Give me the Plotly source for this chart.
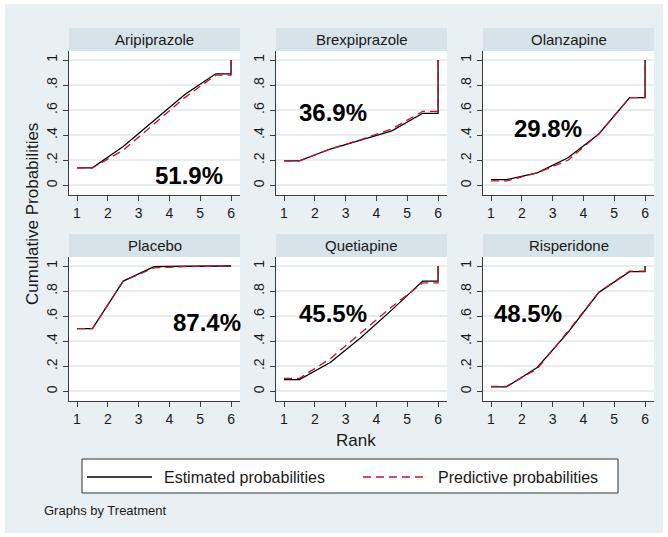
"""Cumulative ranking (SUCRA) curves by treatment, Stata-style panel grid."""

import plotly.graph_objects as go

# ── data ─────────────────────────────────────────────────────────────

treatments = ["Aripiprazole", "Brexpiprazole", "Olanzapine", "Placebo", "Quetiapine", "Risperidone"]
ranks = [1, 2, 3, 4, 5, 6]
sucra_labels = ["51.9%", "36.9%", "29.8%", "87.4%", "45.5%", "48.5%"]

# cumulative probability of being among the best k treatments, k = 1..6
est_aripiprazole = [0.14, 0.31, 0.52, 0.725, 0.89, 1.0]
est_brexpiprazole = [0.195, 0.29, 0.36, 0.435, 0.575, 1.0]
est_olanzapine = [0.045, 0.10, 0.22, 0.41, 0.70, 1.0]
est_placebo = [0.50, 0.88, 0.995, 0.998, 1.0, 1.0]
est_quetiapine = [0.093, 0.23, 0.43, 0.65, 0.88, 1.0]
est_risperidone = [0.035, 0.19, 0.47, 0.79, 0.955, 1.0]

pred_aripiprazole = [0.14, 0.28, 0.49, 0.70, 0.88, 1.0]
pred_brexpiprazole = [0.195, 0.29, 0.365, 0.45, 0.59, 1.0]
pred_olanzapine = [0.035, 0.10, 0.20, 0.41, 0.70, 1.0]
pred_placebo = [0.50, 0.88, 0.985, 0.995, 0.999, 1.0]
pred_quetiapine = [0.104, 0.26, 0.47, 0.675, 0.865, 1.0]
pred_risperidone = [0.04, 0.18, 0.48, 0.79, 0.96, 1.0]

estimated = [est_aripiprazole, est_brexpiprazole, est_olanzapine,
             est_placebo, est_quetiapine, est_risperidone]
predictive = [pred_aripiprazole, pred_brexpiprazole, pred_olanzapine,
              pred_placebo, pred_quetiapine, pred_risperidone]
series_names = ["Estimated probabilities", "Predictive probabilities"]

y_tickvals = [0, 0.2, 0.4, 0.6, 0.8, 1]
y_ticktext = ["0", ".2", ".4", ".6", ".8", "1"]

# ── layout constants (pixels) ────────────────────────────────────────

W, H = 668, 537
FONT = "Arial, Liberation Sans, sans-serif"
INK = "#1a1a1a"
BG = "#e9f0f3"
STRIP = "#d6e3e9"
GRID = "#e6eef1"
AXIS = "#3c3c3c"
RED = "#c8102e"
DASH = "8px,5px"

cols_px = [(69, 240), (276, 447), (483, 654)]
rows_px = [(51, 195), (257, 401)]
strip_h = 23
# where each SUCRA label sits, in data units of its panel
label_xy = [(4.65, 0.08), (2.6, 0.58), (2.85, 0.45), (5.22, 0.55), (2.6, 0.62), (2.2, 0.62)]


def px(x):
    return x / W


def py(y):
    return 1 - y / H


def step_path(cum):
    """Stata sucra layout: flat to 1.5, joined at half ranks, jump to 1 at the last rank."""
    xs = [ranks[0]] + [r + 0.5 for r in ranks[:-1]] + [ranks[-1], ranks[-1]]
    ys = [cum[0]] + list(cum[:-1]) + [cum[-2], cum[-1]]
    return xs, ys


def text(s, x, y, size, **kw):
    fig.add_annotation(text=s, xref="paper", yref="paper", x=px(x), y=py(y),
                       xanchor=kw.pop("xanchor", "center"), yanchor="middle",
                       showarrow=False, font=dict(family=FONT, size=size, color=INK), **kw)


fig = go.Figure()

# outer light panel
fig.add_shape(type="rect", xref="paper", yref="paper",
              x0=px(5), x1=px(663), y0=py(533), y1=py(4),
              fillcolor=BG, line_width=0, layer="below")

for i, name in enumerate(treatments):
    r, c = divmod(i, 3)
    x0, x1 = cols_px[c]
    top, bot = rows_px[r]
    n = "" if i == 0 else str(i + 1)
    xa, ya = "x" + n, "y" + n

    fig.add_shape(type="rect", xref="paper", yref="paper",
                  x0=px(x0), x1=px(x1), y0=py(bot), y1=py(top),
                  fillcolor="white", line_width=0, layer="below")
    fig.add_shape(type="rect", xref="paper", yref="paper",
                  x0=px(x0), x1=px(x1), y0=py(top), y1=py(top - strip_h),
                  fillcolor=STRIP, line_width=0)
    text(name, (x0 + x1) / 2, top - strip_h / 2, 15)

    ex, ey = step_path(estimated[i])
    qx, qy = step_path(predictive[i])
    fig.add_trace(go.Scatter(x=ex, y=ey, xaxis=xa, yaxis=ya, mode="lines",
                             line=dict(color="black", width=1.3), name=series_names[0]))
    fig.add_trace(go.Scatter(x=qx, y=qy, xaxis=xa, yaxis=ya, mode="lines",
                             line=dict(color=RED, width=1.3, dash=DASH), name=series_names[1]))

    lx, ly = label_xy[i]
    fig.add_annotation(text="<b>" + sucra_labels[i] + "</b>", xref=xa, yref=ya,
                       x=lx, y=ly, showarrow=False,
                       font=dict(family=FONT, size=24, color="black"))

    common = dict(showline=True, linecolor=AXIS, linewidth=1, ticks="outside",
                  ticklen=5, tickcolor=AXIS, tickfont=dict(family=FONT, size=14, color=INK),
                  zeroline=False)
    fig.update_layout({
        "xaxis" + n: dict(domain=[px(x0), px(x1)], range=[0.74, 6.29], anchor=ya,
                          tickvals=ranks, showgrid=False, **common),
        "yaxis" + n: dict(domain=[py(bot), py(top)], range=[-0.077, 1.072], anchor=xa,
                          tickvals=y_tickvals, ticktext=y_ticktext, tickangle=-90,
                          showgrid=True, gridcolor=GRID, gridwidth=1.5, **common),
    })

text("Cumulative Probabilities", 32, 214, 17, textangle=-90)
text("Rank", 356, 440, 17)
text("Graphs by Treatment", 42, 510, 13, xanchor="left")

# legend box, Stata style
fig.add_shape(type="rect", xref="paper", yref="paper",
              x0=px(82), x1=px(618), y0=py(493), y1=py(459),
              fillcolor="white", line=dict(color="#333333", width=1))
fig.add_shape(type="line", xref="paper", yref="paper",
              x0=px(87), x1=px(152), y0=py(477), y1=py(477),
              line=dict(color="black", width=1.3))
fig.add_shape(type="line", xref="paper", yref="paper",
              x0=px(363), x1=px(426), y0=py(477), y1=py(477),
              line=dict(color=RED, width=1.3, dash=DASH))
text(series_names[0], 162, 477, 16, xanchor="left")
text(series_names[1], 436, 477, 16, xanchor="left")

fig.update_layout(
    width=W, height=H,
    margin=dict(l=0, r=0, t=0, b=0),
    paper_bgcolor="white", plot_bgcolor="white",
    showlegend=False,
)

fig.write_html("out.html", config={"displayModeBar": False},
               post_script="document.body.style.margin='0';")
